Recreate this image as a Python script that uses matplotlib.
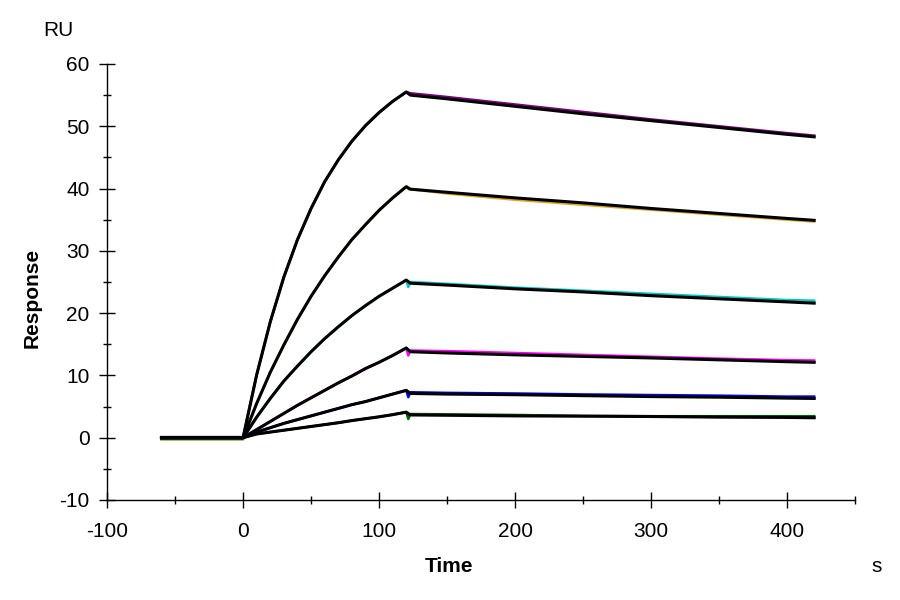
import numpy as np
import matplotlib.pyplot as plt
from matplotlib.ticker import MultipleLocator

plt.rcParams['font.family'] = ['Liberation Sans', 'DejaVu Sans']
plt.rcParams['axes.unicode_minus'] = False

# time grids (s)
t_base = [-60, -40, -20, 0]
t_assoc = [0, 10, 20, 30, 40, 50, 60, 70, 80, 90, 100, 110, 120]
t_diss = [123, 150, 200, 250, 300, 350, 400, 420]
t_spike = 121.5

colors = ['#800080', '#DAA520', '#00C8C8', '#FF00FF', '#0000FF', '#006400']

# association phase (fit and data overlap)
assoc = [
    [0, 10.1, 18.6, 25.8, 31.8, 36.8, 41.1, 44.6, 47.6, 50.1, 52.2, 54.0, 55.5],
    [0, 5.5, 10.5, 14.9, 19.0, 22.7, 26.0, 29.0, 31.8, 34.2, 36.5, 38.5, 40.3],
    [0, 3.3, 6.3, 9.1, 11.5, 13.8, 15.9, 17.8, 19.6, 21.2, 22.7, 24.0, 25.3],
    [0, 1.3, 2.6, 3.9, 5.2, 6.4, 7.6, 8.8, 9.9, 11.1, 12.1, 13.2, 14.4],
    [0, 0.9, 1.6, 2.3, 2.9, 3.5, 4.1, 4.7, 5.3, 5.8, 6.4, 7.0, 7.6],
    [0, 0.6, 0.9, 1.2, 1.5, 1.8, 2.1, 2.4, 2.75, 3.05, 3.35, 3.7, 4.1],
]

# dissociation phase, fitted curves
fit_diss = [
    [55.0, 54.4, 53.2, 52.0, 50.9, 49.8, 48.7, 48.3],
    [39.9, 39.4, 38.5, 37.7, 36.8, 36.0, 35.2, 34.9],
    [24.8, 24.5, 23.9, 23.4, 22.8, 22.3, 21.8, 21.6],
    [13.8, 13.6, 13.3, 13.05, 12.8, 12.5, 12.2, 12.1],
    [7.1, 7.0, 6.9, 6.75, 6.6, 6.5, 6.35, 6.3],
    [3.65, 3.6, 3.5, 3.45, 3.4, 3.3, 3.25, 3.2],
]

# dissociation phase, measured curves
data_diss = [
    [55.3, 54.7, 53.5, 52.3, 51.1, 50.0, 48.9, 48.5],
    [39.9, 39.2, 38.2, 37.4, 36.6, 35.8, 35.0, 34.7],
    [25.0, 24.7, 24.1, 23.6, 23.1, 22.6, 22.1, 22.0],
    [14.0, 13.9, 13.6, 13.3, 13.0, 12.7, 12.45, 12.4],
    [7.3, 7.2, 7.1, 6.95, 6.85, 6.75, 6.6, 6.6],
    [3.8, 3.75, 3.65, 3.5, 3.45, 3.45, 3.45, 3.45],
]

data_base = [0.1, -0.3, -0.2, 0.0, 0.0, 0.0]
data_spike = [55.4, 39.9, 24.2, 13.2, 6.5, 3.0]

fig = plt.figure(figsize=(9, 6), dpi=100)
ax = fig.add_axes([0.119, 0.1667, 0.831, 0.7267])

for i in range(len(assoc)):
    # measured data (coloured)
    t_data = t_base + t_assoc[1:] + [t_spike] + t_diss
    y_data = [data_base[i]] * len(t_base) + assoc[i][1:] + [data_spike[i]] + data_diss[i]
    ax.plot(t_data, y_data, color=colors[i], lw=1.8, zorder=2)

for i in range(len(assoc)):
    # fit (black) on top
    t_fit = t_base + t_assoc[1:] + t_diss
    y_fit = [0] * len(t_base) + assoc[i][1:] + fit_diss[i]
    ax.plot(t_fit, y_fit, color='black', lw=2.2, zorder=3)

ax.set_xlim(-100, 450)
ax.set_ylim(-10, 60)
ax.xaxis.set_major_locator(MultipleLocator(100))
ax.xaxis.set_minor_locator(MultipleLocator(50))
ax.yaxis.set_major_locator(MultipleLocator(10))
ax.yaxis.set_minor_locator(MultipleLocator(5))
ax.tick_params(which='major', direction='inout', length=11, width=1, labelsize=15)
ax.tick_params(axis='x', which='major', pad=10)
ax.tick_params(axis='y', which='major', pad=7)
ax.tick_params(which='minor', direction='inout', length=6, width=1)
for side in ['top', 'right']:
    ax.spines[side].set_visible(False)
for side in ['left', 'bottom']:
    ax.spines[side].set_linewidth(1)

fig.text(43 / 900, 1 - 30 / 600, 'RU', fontsize=15, ha='left', va='center')
fig.text(32 / 900, 1 - 298 / 600, 'Response', fontsize=15, fontweight='bold',
         rotation=90, ha='center', va='center')
fig.text(449 / 900, 1 - 566 / 600, 'Time', fontsize=15, fontweight='bold',
         ha='center', va='center')
fig.text(871 / 900, 1 - 567 / 600, 's', fontsize=15, ha='left', va='center')

fig.savefig('out.png', dpi=100)
